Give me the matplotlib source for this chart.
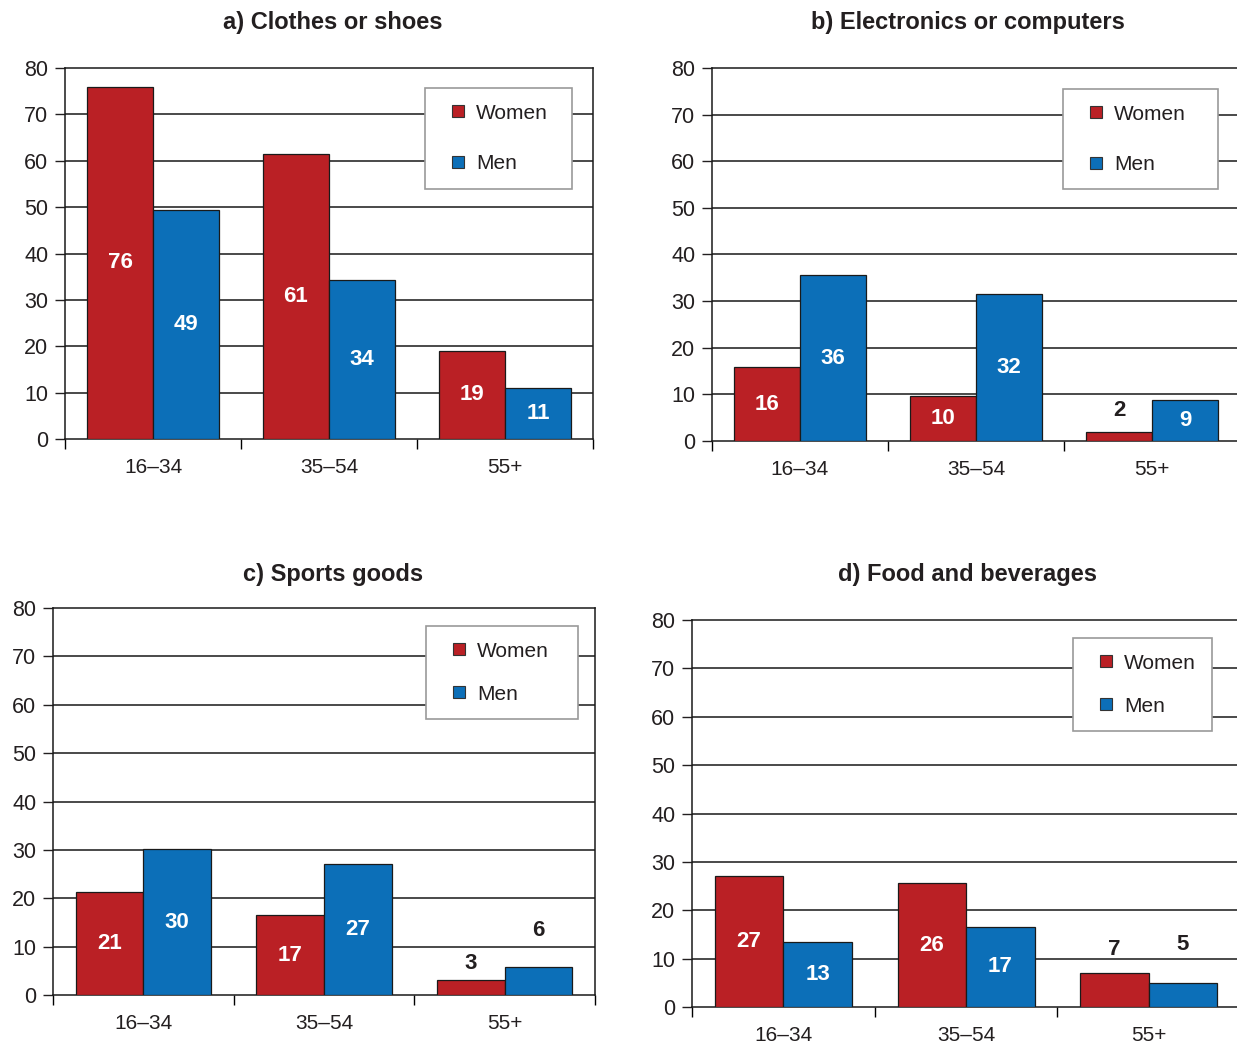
import matplotlib
matplotlib.use("Agg")
import matplotlib.pyplot as plt
from matplotlib.lines import Line2D

plt.rcParams['font.family'] = ['Liberation Sans', 'DejaVu Sans']

categories = ['16–34', '35–54', '55+']
series_names = ['Women', 'Men']

titles = ['a) Clothes or shoes', 'b) Electronics or computers',
          'c) Sports goods', 'd) Food and beverages']

# bar heights
clothes_women = [76, 61.5, 19]
clothes_men = [49.3, 34.3, 11]
electronics_women = [15.8, 9.7, 1.9]
electronics_men = [35.6, 31.5, 8.9]
sports_women = [21.2, 16.5, 3.2]
sports_men = [30.1, 27.1, 5.8]
food_women = [27, 25.6, 7]
food_men = [13.4, 16.6, 5]

# printed value labels
clothes_women_lbl = [76, 61, 19]
clothes_men_lbl = [49, 34, 11]
electronics_women_lbl = [16, 10, 2]
electronics_men_lbl = [36, 32, 9]
sports_women_lbl = [21, 17, 3]
sports_men_lbl = [30, 27, 6]
food_women_lbl = [27, 26, 7]
food_men_lbl = [13, 17, 5]

RED = '#BA2025'
BLUE = '#0C6FB8'
W, H = 1237, 1044

panels = [
    (clothes_women, clothes_men, clothes_women_lbl, clothes_men_lbl),
    (electronics_women, electronics_men, electronics_women_lbl, electronics_men_lbl),
    (sports_women, sports_men, sports_women_lbl, sports_men_lbl),
    (food_women, food_men, food_women_lbl, food_men_lbl),
]

# pixel layout: (left, right, top, bottom) of each axes, legend box, title pos
axes_px = [(65, 593, 68, 439), (712, 1240, 68, 441),
           (53, 595, 608, 995), (692, 1240, 620, 1007)]
legend_px = [(425, 572, 88, 188), (1063, 1218, 89, 189),
             (426, 578, 626, 714), (1073, 1212, 638, 723)]
title_px = [(333, 22), (968, 22), (333, 575), (968, 575)]
# offsets (px) above the bar top for values written outside the bar
outside_off = {(1, 0, 2): 22, (2, 0, 2): 16, (2, 1, 2): 36,
               (3, 0, 2): 24, (3, 1, 2): 38}

fig = plt.figure(figsize=(W / 100, H / 100), dpi=100)

for p, (women, men, wl, ml) in enumerate(panels):
    l, r, t, b = axes_px[p]
    ax = fig.add_axes([l / W, 1 - b / H, (r - l) / W, (b - t) / H])
    x = list(range(len(categories)))
    bw = 0.375
    for s, (vals, lbls, col) in enumerate([(women, wl, RED), (men, ml, BLUE)]):
        xs = [i + (s - 0.5) * bw for i in x]
        ax.bar(xs, vals, width=bw, color=col, edgecolor='#1a1a1a',
               linewidth=0.9, zorder=3)
        for i, (xi, v, lb) in enumerate(zip(xs, vals, lbls)):
            if v >= 8.5:
                ax.text(xi, v / 2, str(lb), ha='center', va='center',
                        color='white', fontsize=16, fontweight='bold',
                        family=['Liberation Sans Narrow', 'Liberation Sans'],
                        zorder=4)
            else:
                off = outside_off.get((p, s, i), 20)
                ax.annotate(str(lb), (xi, v), xytext=(0, off * 0.72),
                            textcoords='offset points', ha='center',
                            va='center', color='#231f20', fontsize=16,
                            fontweight='bold',
                            family=['Liberation Sans Narrow', 'Liberation Sans'])
    ax.set_xlim(-0.5, 2.5)
    ax.set_ylim(0, 80)
    ax.set_yticks(range(0, 81, 10))
    ax.tick_params(axis='y', labelsize=15.5, length=7, width=1,
                   direction='out', pad=5, colors='#231f20')
    ax.set_xticks([-0.5, 0.5, 1.5, 2.5])
    ax.set_xticklabels([])
    ax.set_xticks(x, minor=True)
    ax.set_xticklabels(categories, minor=True, fontsize=15, color='#231f20')
    ax.tick_params(axis='x', which='major', length=7, width=1, direction='out')
    ax.tick_params(axis='x', which='minor', length=0, pad=14)
    for yv in range(10, 80, 10):
        ax.axhline(yv, color='#3a3a3a', linewidth=1.3, zorder=1)
    for sp in ax.spines.values():
        sp.set_color('#1a1a1a')
        sp.set_linewidth(1.1)

    handles = [Line2D([], [], linestyle='none', marker='s', markersize=8,
                      markerfacecolor=c, markeredgecolor='#333333',
                      markeredgewidth=0.8) for c in (RED, BLUE)]
    ll, lr, lt, lb_ = legend_px[p]
    leg = fig.legend(handles, series_names, loc='upper left',
                     bbox_to_anchor=(ll / W, 1 - lt / H, (lr - ll) / W, 0),
                     mode='expand', borderaxespad=0, fontsize=15,
                     frameon=True, fancybox=False, framealpha=1,
                     edgecolor='#9a9a9a', handlelength=1.65,
                     handletextpad=0.05, borderpad=0.75,
                     labelspacing=(1.5 if p < 2 else 1.15))
    leg.get_frame().set_linewidth(1.2)
    for txt in leg.get_texts():
        txt.set_color('#231f20')

    tx, ty = title_px[p]
    fig.text(tx / W, 1 - ty / H, titles[p], ha='center', va='center',
             fontsize=17, fontweight='bold', color='#231f20')

fig.savefig('out.png', dpi=100)
